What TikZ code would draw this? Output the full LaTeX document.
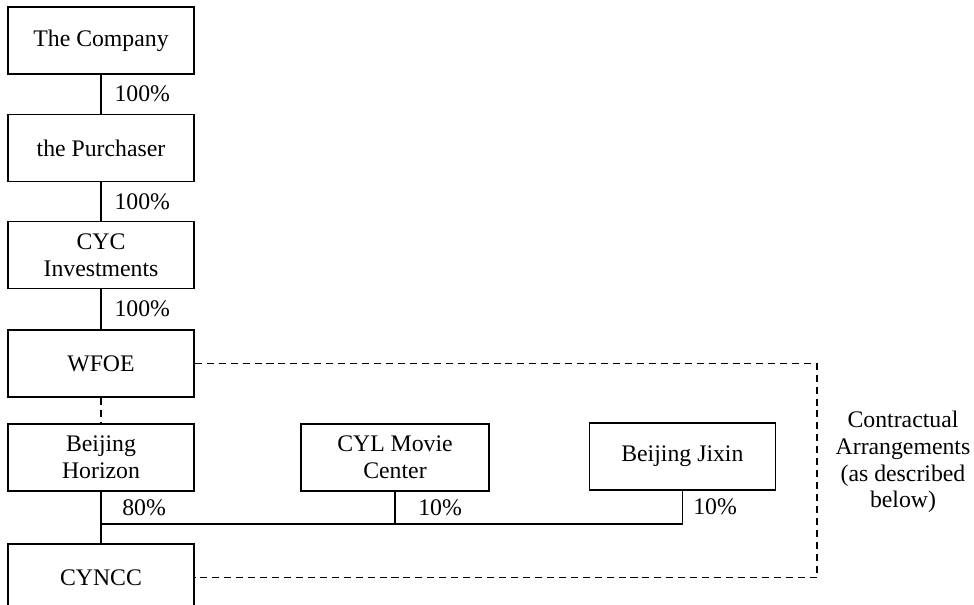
\documentclass[tikz,border=0pt]{standalone}
\usepackage{fontspec}
\setmainfont{Liberation Serif}
\begin{document}
\begin{tikzpicture}[
        boite/.style={draw, line width=1.1pt, minimum width=4.65cm, minimum height=1.675cm, align=center, inner sep=0pt},
        lien/.style={line width=1.1pt},
        contrat/.style={line width=1.1pt, dash pattern=on 5pt off 3.5pt},
        pct/.style={anchor=west, inner sep=0pt, xshift=0.32cm},
        every node/.style={font=\fontsize{16.9}{19}\selectfont}
    ]
        % Cadre
        \useasboundingbox (0,0) rectangle (24.35,-15.125);
        \clip (0,0) rectangle (24.35,-15.125);
        % Chaîne de détention
        \node[boite] (company) at (2.525,-1.0125) {The Company};
        \node[boite] (purchaser) at (2.525,-3.7) {the Purchaser};
        \node[boite] (cyc) at (2.525,-6.375) {CYC\\Investments};
        \node[boite] (wfoe) at (2.525,-9.0875) {WFOE};
        \node[boite] (horizon) at (2.525,-11.4375) {Beijing\\Horizon};
        \node[boite] (cyncc) at (2.525,-14.4375) {CYNCC};
        % Autres actionnaires
        \node[boite, minimum width=4.7cm] (cyl) at (9.875,-11.4375) {CYL Movie\\Center};
        \node[boite] (jixin) at (17.06,-11.4125) {Beijing Jixin};
        % Liens de détention
        \draw[lien] (company) -- node[pct] {100\%} (purchaser);
        \draw[lien] (purchaser) -- node[pct] {100\%} (cyc);
        \draw[lien] (cyc) -- node[pct] {100\%} (wfoe);
        \draw[lien] (horizon) -- (cyncc);
        \coordinate (jonction) at (2.525,-13.1);
        \draw[lien] (cyl.south) |- (jonction);
        \draw[lien] (jixin.south) |- (jonction);
        \node[anchor=west, inner sep=0pt] (p80) at (3.05,-12.69) {80\%};
        \node[anchor=west, inner sep=0pt] (p10a) at (10.45,-12.7) {10\%};
        \node[anchor=west, inner sep=0pt] (p10b) at (17.325,-12.675) {10\%};
        % Accords contractuels
        \draw[contrat] (wfoe) -- (horizon);
        \coordinate (coin) at (20.425,-9.0875);
        \draw[contrat] (wfoe.east) -- (coin) |- (cyncc.east);
        \node[align=center] (arrangements) at (22.575,-11.55) {Contractual\\Arrangements\\(as described\\below)};
    \end{tikzpicture}
\end{document}
